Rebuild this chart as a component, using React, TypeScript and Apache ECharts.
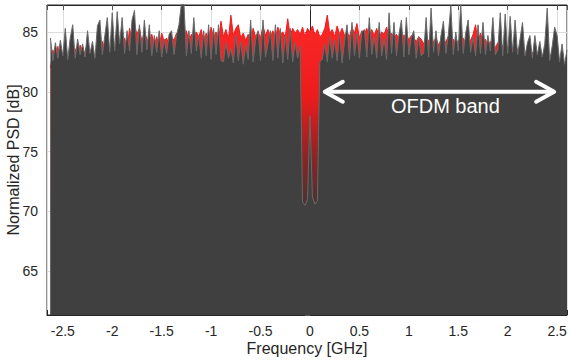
import React, { useEffect, useRef } from "react";
import * as echarts from "echarts";

// Frequency grid of the sampled spectrum (GHz)
const freqStart = -2.625;
const freqStep = 0.025;

// Normalized PSD of the received signal (dark gray trace), dB
const grayPSD = [
  84.5, 82.6, 84.1, 82.8, 84.3, 83.0, 85.3, 82.7, 84.5, 85.6,
  82.8, 84.4, 83.1, 84.0, 82.9, 85.1, 83.2, 84.2, 82.8, 85.5,
  86.0, 83.1, 84.7, 86.2, 83.3, 86.6, 83.4, 86.7, 84.0, 86.2,
  83.2, 85.1, 83.4, 86.0, 86.8, 83.1, 85.6, 83.3, 86.0, 83.5,
  85.6, 83.0, 84.7, 83.3, 85.1, 82.9, 84.4, 83.2, 84.8, 85.1,
  83.1, 84.7, 85.6, 87.4, 87.4, 83.0, 85.1, 83.2, 86.2, 83.4,
  84.7, 82.8, 85.1, 83.0, 85.6, 82.7, 85.3, 83.1, 85.6, 82.6,
  82.5, 84.1, 82.8, 83.6, 82.4, 84.7, 82.6, 84.2, 82.3, 83.9,
  82.7, 86.0, 82.5, 84.3, 85.1, 82.6, 86.0, 82.9, 84.0, 85.1,
  82.6, 85.6, 82.8, 85.3, 82.4, 84.7, 82.7, 85.3, 82.5, 84.1,
  82.8, 83.8, 70.8, 70.5, 71.0, 78.0, 71.2, 70.6, 70.9, 82.5,
  82.7, 84.0, 82.5, 84.6, 82.8, 84.3, 82.6, 84.9, 82.4, 84.2,
  85.6, 82.7, 85.8, 83.0, 84.9, 82.8, 85.0, 85.2, 82.9, 86.2,
  83.1, 84.6, 82.8, 85.8, 83.0, 84.4, 82.7, 86.6, 83.2, 85.8,
  83.0, 84.8, 86.0, 82.9, 86.2, 83.1, 84.5, 85.1, 82.8, 84.6,
  83.0, 83.2, 86.2, 82.9, 87.0, 83.3, 85.1, 83.0, 84.7, 85.9,
  83.2, 84.8, 87.2, 83.1, 85.0, 83.4, 87.3, 83.2, 84.9, 86.0,
  83.3, 84.6, 83.0, 85.6, 83.2, 85.8, 83.1, 84.7, 83.4, 86.2,
  83.1, 83.5, 86.6, 83.0, 86.5, 83.2, 86.3, 83.3, 86.0, 83.1,
  84.4, 85.8, 83.0, 84.1, 84.7, 82.8, 84.7, 83.1, 84.2, 82.9,
  84.0, 87.0, 82.6, 83.8, 85.4, 84.7, 82.5, 84.0, 82.3, 83.5,
];

// Normalized PSD of the transmitted / reference signal (red trace), dB
const redPSD = [
  82.0, 83.5, 82.4, 83.8, 82.2, 83.0, 84.0, 82.5, 83.2, 82.6,
  83.6, 82.3, 83.9, 82.7, 83.4, 84.1, 82.8, 83.5, 82.4, 83.7,
  82.9, 84.2, 83.0, 84.4, 83.1, 84.0, 82.8, 84.3, 83.6, 84.1,
  84.5, 83.4, 85.3, 84.0, 85.6, 84.8, 85.3, 84.2, 85.0, 84.4,
  84.1, 84.8, 83.9, 84.6, 83.7, 84.9, 84.2, 84.5, 83.9, 84.6,
  84.3, 84.9, 84.0, 84.7, 84.4, 85.1, 84.2, 84.8, 84.5, 85.0,
  84.6, 85.2, 84.1, 84.9, 84.3, 85.4, 84.5, 85.0, 84.2, 85.9,
  84.6, 85.2, 84.4, 86.4, 84.7, 85.3, 85.6, 84.5, 84.9, 84.3,
  84.8, 84.4, 85.3, 84.6, 85.0, 84.5, 85.5, 84.7, 85.2, 84.6,
  85.1, 84.5, 85.4, 84.8, 85.0, 84.6, 86.1, 84.7, 85.3, 84.9,
  85.2, 84.8, 85.4, 84.6, 85.3, 85.0, 85.5, 84.7, 85.2, 84.6,
  84.8, 85.3, 86.4, 84.9, 85.2, 84.6, 85.5, 84.8, 85.3, 84.7,
  85.0, 84.6, 85.4, 84.9, 85.7, 84.5, 85.1, 84.8, 85.3, 84.6,
  85.2, 84.7, 85.3, 84.5, 85.0, 84.8, 85.4, 84.6, 84.9, 84.5,
  84.8, 84.4, 85.0, 84.6, 84.9, 84.3, 84.7, 84.5, 84.2, 84.6,
  84.4, 84.0, 84.6, 84.2, 84.8, 84.1, 84.5, 83.9, 84.3, 84.0,
  84.2, 84.6, 84.0, 84.4, 83.8, 84.3, 84.0, 84.5, 83.9, 84.2,
  84.3, 84.8, 85.6, 84.1, 84.9, 84.0, 84.4, 83.8, 84.2, 83.9,
  83.7, 84.1, 83.6, 83.9, 83.4, 83.8, 83.5, 83.7, 83.3, 83.6,
  83.2, 83.5, 83.0, 83.4, 82.9, 83.3, 83.0, 83.2, 82.8, 83.1,
  82.7, 83.0, 82.6, 82.9, 82.5, 82.8, 82.4, 82.7, 82.3, 82.5,
];

// Axis ranges and annotation
const xRange = [-2.66, 2.6];
const yRange = [61.35, 87.25];
const arrowFrom = 0.15;
const arrowTo = 2.47;
const arrowLevel = 80;
const bandLabel = "OFDM band";
const bandLabelPos = [1.37, 78.85];

const FONT = '"Liberation Sans", Arial, Helvetica, sans-serif';
const INK = "#262626";

function tickFmt(v: number) {
  const k = v / 0.5;
  if (Math.abs(k - Math.round(k)) > 1e-6) return "";
  return String(Math.round(v * 10) / 10);
}
function yFmt(v: number) {
  const k = v / 5;
  if (Math.abs(k - Math.round(k)) > 1e-6) return "";
  return String(Math.round(v));
}

export default function App() {
  const ref = useRef<HTMLDivElement>(null);
  useEffect(() => {
    if (!ref.current) return;
    const chart = echarts.init(ref.current, undefined, { renderer: "svg" });
    const grayData = grayPSD.map((v, i) => [freqStart + i * freqStep, v]);
    const redData = redPSD.map((v, i) => [freqStart + i * freqStep, v]);

    const baseX = {
      type: "value" as const,
      min: xRange[0],
      max: xRange[1],
      splitNumber: 10,
    };
    const baseY = {
      type: "value" as const,
      min: yRange[0],
      max: yRange[1],
      splitNumber: 5,
    };

    chart.setOption({
      animation: false,
      backgroundColor: "#ffffff",
      grid: {
        left: 47,
        right: 2,
        top: 5,
        bottom: 47,
        containLabel: false,
        outerBoundsMode: "none",
        show: true,
        borderColor: INK,
        borderWidth: 1,
        backgroundColor: "transparent",
      },
      xAxis: [
        {
          ...baseX,
          position: "bottom",
          axisLine: { show: true, lineStyle: { color: INK, width: 1 } },
          axisTick: { show: true, inside: true, length: 5, lineStyle: { color: INK } },
          axisLabel: {
            formatter: tickFmt,
            fontSize: 14,
            lineHeight: 14,
            color: INK,
            fontFamily: FONT,
            margin: 9,
          },
          splitLine: { show: true, lineStyle: { color: "#dcdcdc", width: 1 } },
          name: "Frequency [GHz]",
          nameLocation: "middle",
          nameGap: 25,
          nameMoveOverlap: false,
          nameTextStyle: { fontSize: 16, lineHeight: 16, color: INK, fontFamily: FONT },
        },
        {
          ...baseX,
          position: "top",
          axisLine: { show: true, lineStyle: { color: INK, width: 1 } },
          axisTick: { show: true, inside: true, length: 5, lineStyle: { color: "#555" } },
          axisLabel: { show: false },
          splitLine: { show: false },
        },
      ],
      yAxis: [
        {
          ...baseY,
          position: "left",
          axisLine: { show: true, lineStyle: { color: INK, width: 1 } },
          axisTick: { show: true, inside: true, length: 5, lineStyle: { color: INK } },
          axisLabel: { formatter: yFmt, fontSize: 14, color: INK, fontFamily: FONT, margin: 9 },
          splitLine: { show: true, lineStyle: { color: "#dcdcdc", width: 1 } },
          name: "Normalized PSD [dB]",
          nameLocation: "middle",
          nameGap: 26,
          nameMoveOverlap: false,
          nameRotate: 90,
          nameTextStyle: { fontSize: 16, lineHeight: 16, color: INK, fontFamily: FONT },
        },
        {
          ...baseY,
          position: "right",
          axisLine: { show: true, lineStyle: { color: INK, width: 1 } },
          axisTick: { show: true, inside: true, length: 5, lineStyle: { color: "#555" } },
          axisLabel: { show: false },
          splitLine: { show: false },
        },
      ],
      series: [
        {
          name: "reference",
          type: "line",
          xAxisIndex: 0,
          yAxisIndex: 0,
          data: redData,
          symbol: "none",
          z: 2,
          lineStyle: { color: "#ee1c1c", width: 1 },
          areaStyle: {
            origin: "start",
            opacity: 1,
            color: {
              type: "linear",
              x: 0,
              y: 5,
              x2: 0,
              y2: 210,
              global: true,
              colorStops: [
                { offset: 0, color: "#ff2a2a" },
                { offset: 0.45, color: "#ec1c1c" },
                { offset: 0.75, color: "#8a2424" },
                { offset: 1, color: "#413434" },
              ],
            },
          },
        },
        {
          name: "received",
          type: "line",
          xAxisIndex: 0,
          yAxisIndex: 0,
          data: grayData,
          symbol: "none",
          z: 3,
          lineStyle: { color: "#6a6a6a", width: 1 },
          areaStyle: { origin: "start", opacity: 1, color: "#404040" },
        },
      ],
    });

    const [ax1, ay] = chart.convertToPixel({ xAxisIndex: 0, yAxisIndex: 0 }, [arrowFrom, arrowLevel]) as number[];
    const [ax2] = chart.convertToPixel({ xAxisIndex: 0, yAxisIndex: 0 }, [arrowTo, arrowLevel]) as number[];
    const [tx, ty] = chart.convertToPixel({ xAxisIndex: 0, yAxisIndex: 0 }, bandLabelPos) as number[];
    const hx = 18;
    const hy = 10;
    const stroke = { stroke: "#ffffff", lineWidth: 4, fill: "none", lineJoin: "round", lineCap: "round" };
    chart.setOption({
      graphic: [
        { type: "line", z: 100, shape: { x1: ax1 + 2, y1: ay, x2: ax2 - 2, y2: ay }, style: { ...stroke } },
        {
          type: "polyline",
          z: 100,
          shape: { points: [[ax1 + hx, ay - hy], [ax1, ay], [ax1 + hx, ay + hy]] },
          style: { ...stroke },
        },
        {
          type: "polyline",
          z: 100,
          shape: { points: [[ax2 - hx, ay - hy], [ax2, ay], [ax2 - hx, ay + hy]] },
          style: { ...stroke },
        },
        {
          type: "text",
          z: 100,
          x: tx,
          y: ty,
          style: {
            text: bandLabel,
            fill: "#ffffff",
            fontSize: 20,
            fontFamily: FONT,
            align: "center",
            verticalAlign: "middle",
          },
        },
      ],
    });

    return () => chart.dispose();
  }, []);

  return (
    <div
      ref={ref}
      style={{ position: "fixed", left: 0, top: 0, width: 569, height: 362, background: "#fff" }}
    />
  );
}
